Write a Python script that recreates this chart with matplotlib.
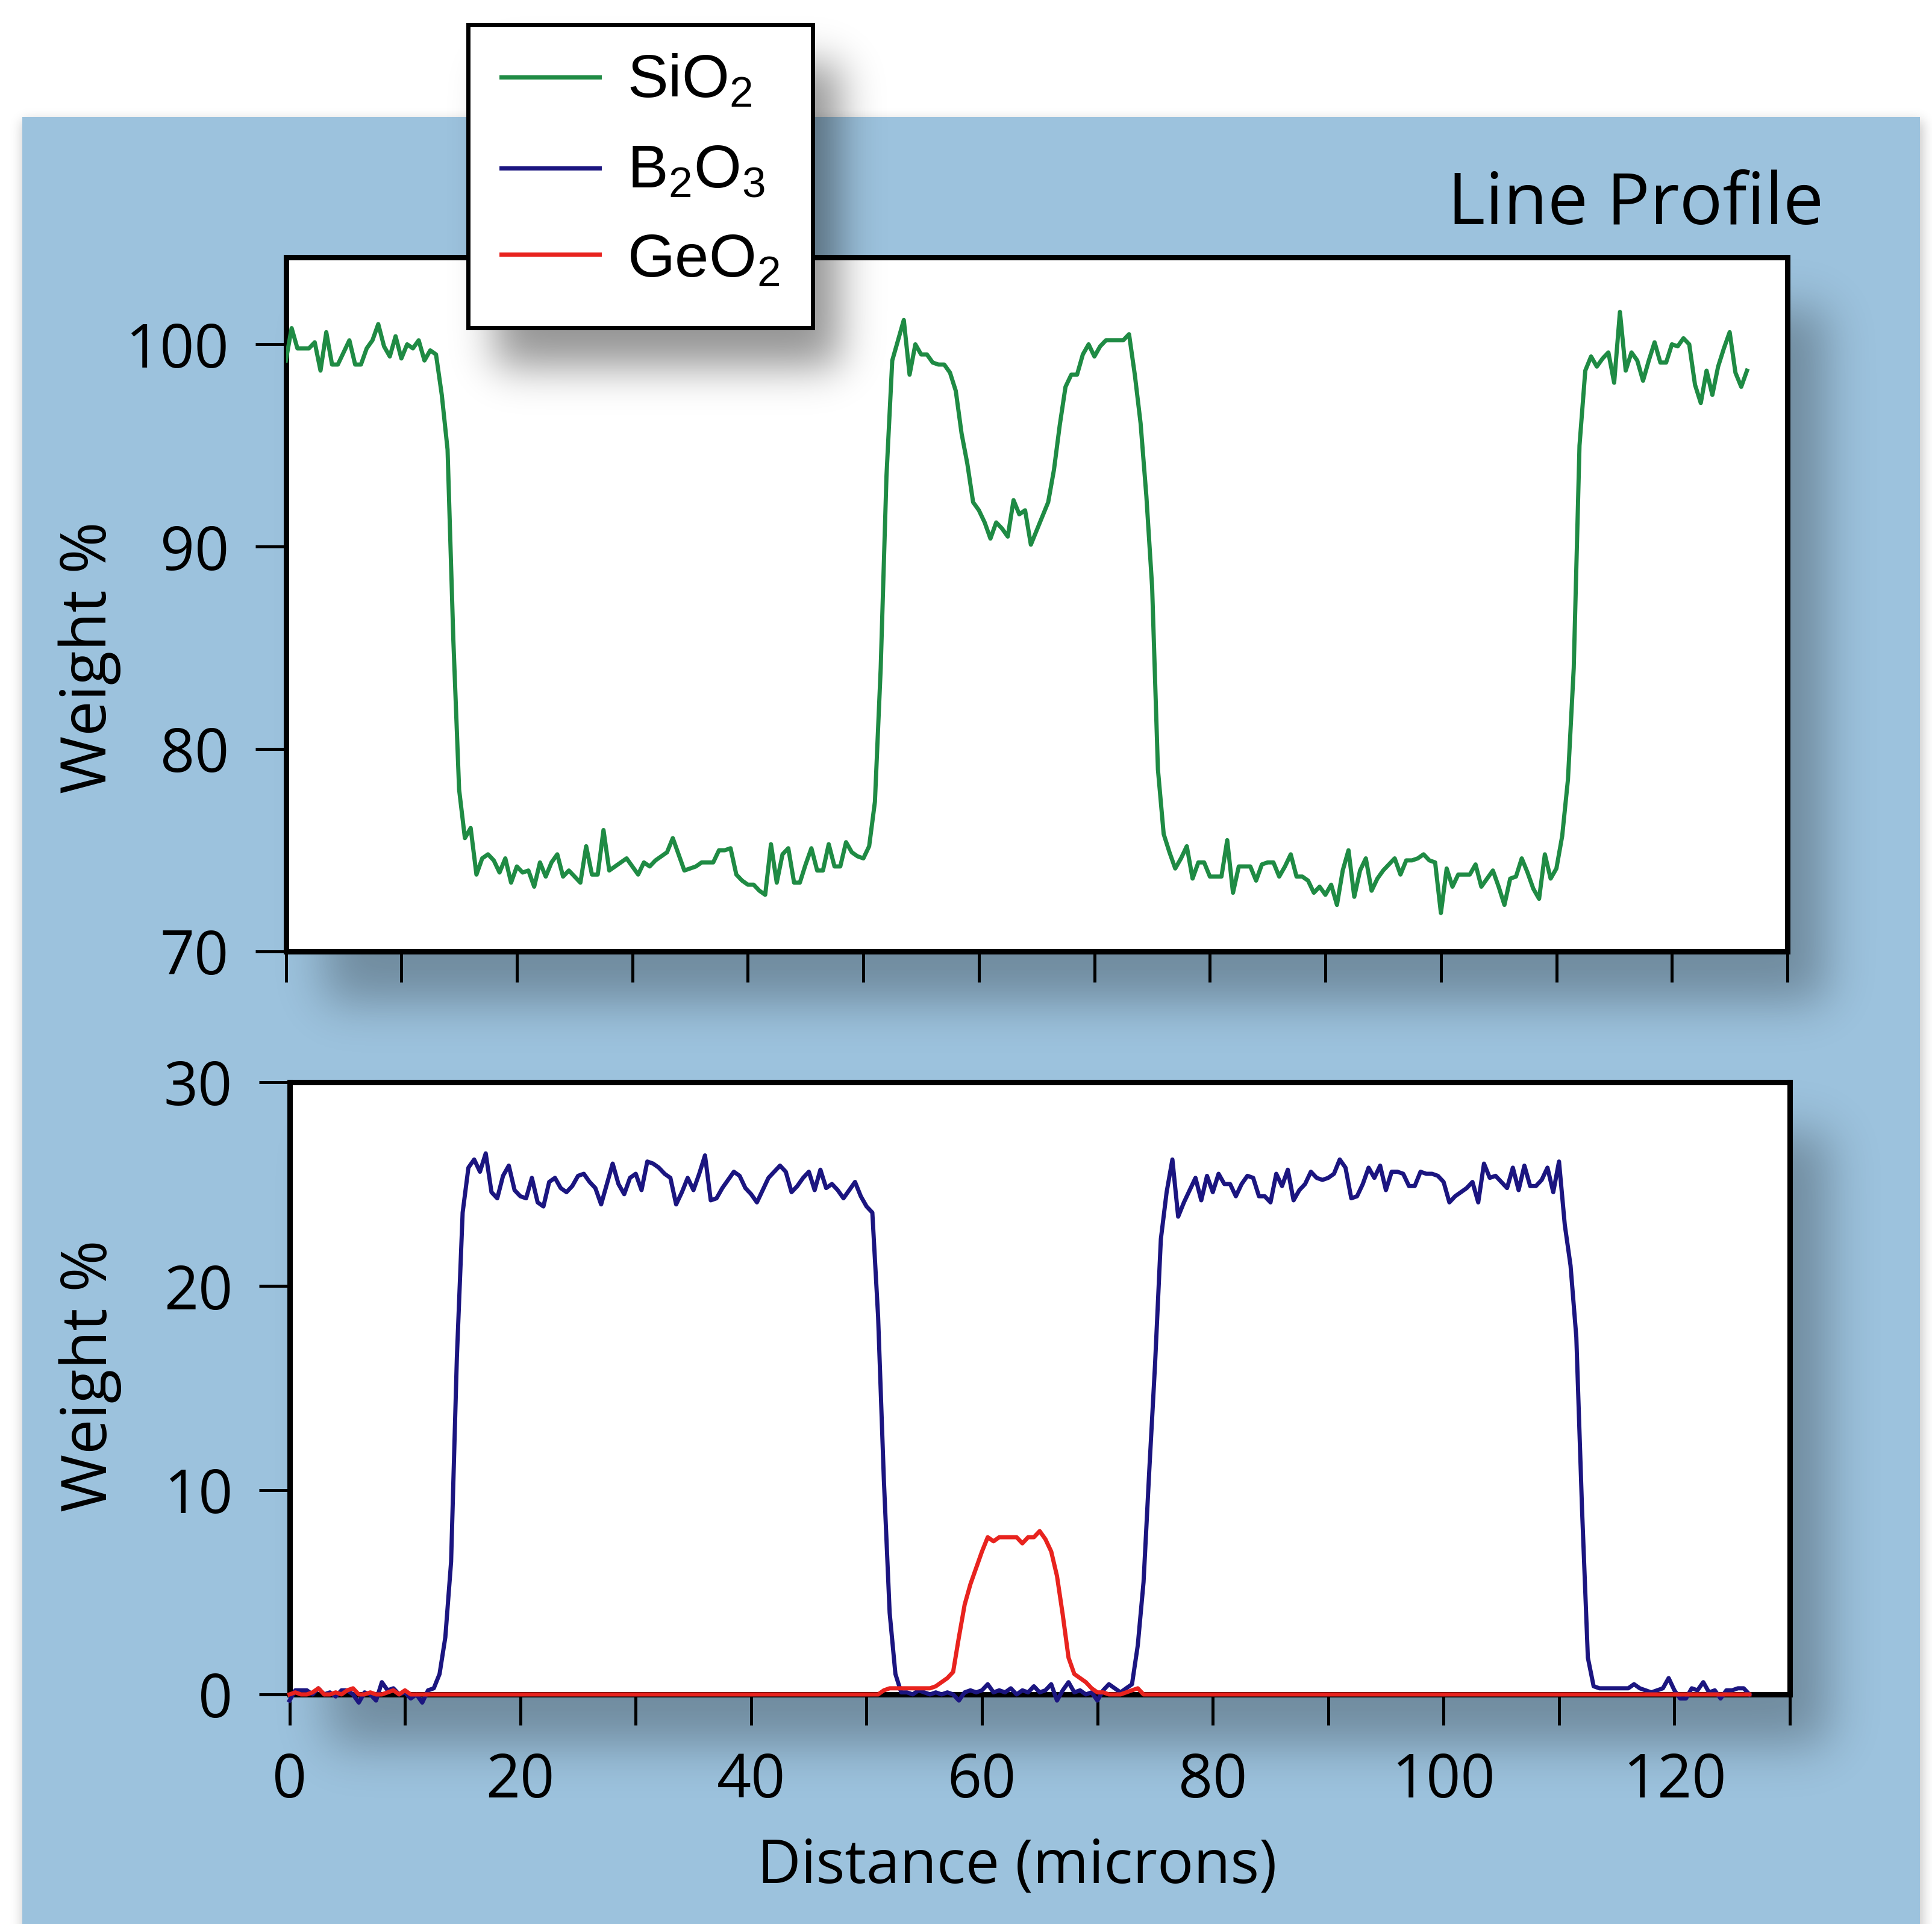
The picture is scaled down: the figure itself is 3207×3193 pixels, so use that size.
import math
import numpy as np
import matplotlib
matplotlib.use("Agg")
import matplotlib.pyplot as plt
from matplotlib.patches import Rectangle
from matplotlib.lines import Line2D

# ---------------- data (weight %, one sample every 0.5 micron) ----------------
step = 0.5

sio2 = [
    99.2, 100.8, 99.8, 99.8, 99.8, 100.1, 98.7, 100.6, 99.0, 99.0,
    99.6, 100.2, 99.0, 99.0, 99.8, 100.2, 101.0, 99.9, 99.4, 100.4,
    99.3, 100.0, 99.8, 100.2, 99.2, 99.7, 99.5, 97.5, 94.8, 85.4,
    78.0, 75.6, 76.1, 73.8, 74.6, 74.8, 74.5, 73.9, 74.6, 73.4,
    74.2, 73.9, 74.0, 73.2, 74.4, 73.7, 74.4, 74.8, 73.7, 74.0,
    73.7, 73.4, 75.2, 73.8, 73.8, 76.0, 74.0, 74.2, 74.4, 74.6,
    74.2, 73.8, 74.4, 74.2, 74.5, 74.7, 74.9, 75.6, 74.8, 74.0,
    74.1, 74.2, 74.4, 74.4, 74.4, 75.0, 75.0, 75.1, 73.8, 73.5,
    73.3, 73.3, 73.0, 72.8, 75.3, 73.4, 74.8, 75.1, 73.4, 73.4,
    74.3, 75.1, 74.0, 74.0, 75.3, 74.2, 74.2, 75.4, 74.9, 74.7,
    74.6, 75.2, 77.4, 84.0, 93.5, 99.2, 100.2, 101.2, 98.5, 100.0,
    99.5, 99.5, 99.1, 99.0, 99.0, 98.6, 97.7, 95.6, 94.1, 92.2,
    91.8, 91.2, 90.4, 91.2, 90.9, 90.5, 92.3, 91.6, 91.8, 90.1,
    90.8, 91.5, 92.2, 93.8, 96.0, 97.9, 98.5, 98.5, 99.5, 100.0,
    99.4, 99.9, 100.2, 100.2, 100.2, 100.2, 100.5, 98.5, 96.1, 92.5,
    88.0, 79.0, 75.8, 74.9, 74.1, 74.6, 75.2, 73.6, 74.4, 74.4,
    73.7, 73.7, 73.7, 75.5, 72.9, 74.2, 74.2, 74.2, 73.5, 74.3,
    74.4, 74.4, 73.7, 74.2, 74.8, 73.7, 73.7, 73.5, 72.9, 73.2,
    72.8, 73.3, 72.3, 74.0, 75.0, 72.7, 74.0, 74.6, 73.0, 73.6,
    74.0, 74.3, 74.6, 73.8, 74.5, 74.5, 74.6, 74.8, 74.5, 74.4,
    71.9, 74.1, 73.2, 73.8, 73.8, 73.8, 74.3, 73.2, 73.6, 74.0,
    73.2, 72.3, 73.6, 73.7, 74.6, 73.9, 73.1, 72.6, 74.8, 73.6,
    74.1, 75.7, 78.5, 84.0, 95.0, 98.7, 99.4, 98.9, 99.3, 99.6,
    98.1, 101.6, 98.7, 99.6, 99.2, 98.2, 99.2, 100.1, 99.1, 99.1,
    100.0, 99.9, 100.3, 100.0, 98.0, 97.1, 98.7, 97.5, 98.9, 99.8,
    100.6, 98.6, 97.9, 98.7,
]

b2o3 = [
    -0.3, 0.2, 0.2, 0.2, 0.0, 0.3, 0.0, 0.1, -0.1, 0.2,
    0.2, 0.0, -0.4, 0.1, 0.0, -0.3, 0.6, 0.2, 0.3, 0.0,
    0.1, -0.2, 0.0, -0.4, 0.2, 0.3, 1.0, 2.8, 6.5, 16.5,
    23.6, 25.8, 26.2, 25.6, 26.5, 24.6, 24.3, 25.4, 25.9, 24.7,
    24.4, 24.3, 25.3, 24.1, 23.9, 25.1, 25.3, 24.8, 24.6, 24.9,
    25.4, 25.5, 25.1, 24.8, 24.0, 25.0, 26.0, 25.0, 24.5, 25.3,
    25.5, 24.7, 26.1, 26.0, 25.8, 25.5, 25.3, 24.0, 24.6, 25.3,
    24.7, 25.5, 26.4, 24.2, 24.3, 24.8, 25.2, 25.6, 25.4, 24.8,
    24.5, 24.1, 24.7, 25.3, 25.6, 25.9, 25.6, 24.6, 24.9, 25.3,
    25.6, 24.7, 25.7, 24.8, 25.0, 24.7, 24.3, 24.7, 25.1, 24.4,
    23.9, 23.6, 18.5, 10.5, 4.0, 1.0, 0.1, 0.1, 0.0, 0.2,
    0.1, 0.0, 0.1, 0.0, 0.1, 0.0, -0.3, 0.1, 0.2, 0.1,
    0.2, 0.5, 0.1, 0.2, 0.1, 0.3, 0.0, 0.2, 0.1, 0.4,
    0.1, 0.2, 0.5, -0.3, 0.2, 0.6, 0.1, 0.2, 0.0, 0.1,
    -0.3, 0.2, 0.5, 0.3, 0.1, 0.3, 0.5, 2.4, 5.5, 11.0,
    16.2, 22.3, 24.6, 26.2, 23.4, 24.1, 24.7, 25.3, 24.2, 25.4,
    24.6, 25.5, 25.0, 25.0, 24.4, 25.0, 25.4, 25.3, 24.4, 24.4,
    24.1, 25.5, 24.9, 25.7, 24.2, 24.7, 25.0, 25.6, 25.3, 25.2,
    25.3, 25.5, 26.2, 25.8, 24.3, 24.4, 25.0, 25.8, 25.3, 25.9,
    24.7, 25.6, 25.6, 25.5, 24.9, 24.9, 25.6, 25.5, 25.5, 25.4,
    25.1, 24.1, 24.4, 24.6, 24.8, 25.1, 24.1, 26.0, 25.3, 25.4,
    25.1, 24.8, 25.8, 24.7, 25.9, 24.9, 24.9, 25.2, 25.8, 24.6,
    26.1, 23.0, 21.0, 17.5, 9.0, 1.8, 0.4, 0.3, 0.3, 0.3,
    0.3, 0.3, 0.3, 0.5, 0.3, 0.2, 0.1, 0.2, 0.3, 0.8,
    0.2, -0.2, -0.2, 0.3, 0.2, 0.6, 0.1, 0.2, -0.2, 0.2,
    0.2, 0.3, 0.3, 0.0,
]

geo2 = [
    0.0, 0.1, 0.0, 0.0, 0.1, 0.3, 0.0, 0.0, 0.1, 0.0,
    0.2, 0.3, 0.0, 0.0, 0.1, 0.0, 0.0, 0.1, 0.2, 0.0,
    0.2, 0.0, 0.0, 0.0, 0.0, 0.0, 0.0, 0.0, 0.0, 0.0,
    0.0, 0.0, 0.0, 0.0, 0.0, 0.0, 0.0, 0.0, 0.0, 0.0,
    0.0, 0.0, 0.0, 0.0, 0.0, 0.0, 0.0, 0.0, 0.0, 0.0,
    0.0, 0.0, 0.0, 0.0, 0.0, 0.0, 0.0, 0.0, 0.0, 0.0,
    0.0, 0.0, 0.0, 0.0, 0.0, 0.0, 0.0, 0.0, 0.0, 0.0,
    0.0, 0.0, 0.0, 0.0, 0.0, 0.0, 0.0, 0.0, 0.0, 0.0,
    0.0, 0.0, 0.0, 0.0, 0.0, 0.0, 0.0, 0.0, 0.0, 0.0,
    0.0, 0.0, 0.0, 0.0, 0.0, 0.0, 0.0, 0.0, 0.0, 0.0,
    0.0, 0.0, 0.0, 0.2, 0.3, 0.3, 0.3, 0.3, 0.3, 0.3,
    0.3, 0.3, 0.4, 0.6, 0.8, 1.1, 2.8, 4.4, 5.4, 6.2,
    7.0, 7.7, 7.5, 7.7, 7.7, 7.7, 7.7, 7.4, 7.7, 7.7,
    8.0, 7.6, 7.0, 5.8, 3.9, 1.8, 1.0, 0.8, 0.6, 0.3,
    0.1, 0.1, 0.0, 0.0, 0.0, 0.1, 0.2, 0.3, 0.0, 0.0,
    0.0, 0.0, 0.0, 0.0, 0.0, 0.0, 0.0, 0.0, 0.0, 0.0,
    0.0, 0.0, 0.0, 0.0, 0.0, 0.0, 0.0, 0.0, 0.0, 0.0,
    0.0, 0.0, 0.0, 0.0, 0.0, 0.0, 0.0, 0.0, 0.0, 0.0,
    0.0, 0.0, 0.0, 0.0, 0.0, 0.0, 0.0, 0.0, 0.0, 0.0,
    0.0, 0.0, 0.0, 0.0, 0.0, 0.0, 0.0, 0.0, 0.0, 0.0,
    0.0, 0.0, 0.0, 0.0, 0.0, 0.0, 0.0, 0.0, 0.0, 0.0,
    0.0, 0.0, 0.0, 0.0, 0.0, 0.0, 0.0, 0.0, 0.0, 0.0,
    0.0, 0.0, 0.0, 0.0, 0.0, 0.0, 0.0, 0.0, 0.0, 0.0,
    0.0, 0.0, 0.0, 0.0, 0.0, 0.0, 0.0, 0.0, 0.0, 0.0,
    0.0, 0.0, 0.0, 0.0, 0.0, 0.0, 0.0, 0.0, 0.0, 0.0,
    0.0, 0.0, 0.0, 0.0,
]

labels = ["SiO$_2$", "B$_2$O$_3$", "GeO$_2$"]
colors = ["#1f8b44", "#1b1580", "#e8231e"]

dist_sio2 = step * np.arange(len(sio2))
dist_b2o3 = step * np.arange(len(b2o3))
dist_geo2 = step * np.arange(len(geo2))

# ---------------- figure ----------------
W, H = 3207, 3193
plt.rcParams['font.family'] = ['Open Sans', 'DejaVu Sans']
plt.rcParams['mathtext.fontset'] = 'custom'
plt.rcParams['mathtext.rm'] = 'Liberation Sans'

fig = plt.figure(figsize=(W / 100, H / 100), dpi=100, facecolor='white')

_erf = np.vectorize(math.erf)


def soft_box(x0, y0, x1, y1, sigma, xs, ys):
    # gaussian-blurred rectangle, used for the drop shadows
    k = math.sqrt(2) * sigma
    fx = 0.5 * (_erf((xs - x0) / k) - _erf((xs - x1) / k))
    fy = 0.5 * (_erf((ys - y0) / k) - _erf((ys - y1) / k))
    return np.outer(fy, fx)


def shadow_rgba(alpha):
    img = np.zeros(alpha.shape + (4,))
    img[..., 3] = alpha
    return img


xs = np.arange(0, W, 2) + 1.0
ys = np.arange(0, H, 2) + 1.0

# blue panel + shadows of the two plot boxes
bg = fig.add_axes([0, 0, 1, 1], zorder=-1)
bg.axis('off')
s_panel = 0.22 * soft_box(37, 194 + 6, 3187 + 6, 3300, 10, xs, ys)
bg.imshow(shadow_rgba(s_panel), extent=(0, W, H, 0), interpolation='bilinear',
          aspect='auto', zorder=0.5)
bg.add_patch(Rectangle((37, 194), 3150, 3000, facecolor='#9cc2dd',
                       edgecolor='none', zorder=1))
s_top = soft_box(474 + 65, 427 + 85, 2967 + 65, 1579 + 85, 38, xs, ys)
s_bot = soft_box(480 + 65, 1795 + 85, 2971 + 65, 2812 + 85, 40, xs, ys)
shade = 1 - (1 - 0.28 * s_top) * (1 - 0.28 * s_bot)
bg.imshow(shadow_rgba(shade), extent=(0, W, H, 0), interpolation='bilinear',
          aspect='auto', zorder=2)
bg.set_xlim(0, W)
bg.set_ylim(H, 0)

# ---- top panel: SiO2
ax1 = fig.add_axes([474.5 / W, 1 - 1579 / H, 2492.5 / W, 1152 / H], zorder=0)
ax1.plot(dist_sio2, sio2, color=colors[0], lw=5, zorder=3)
ax1.set_xlim(0, 130)
ax1.set_ylim(70, 104.3)
ax1.set_xticks(np.arange(0, 131, 10))
ax1.set_xticklabels([])
ax1.set_yticks([70, 80, 90, 100])
ax1.set_ylabel('Weight %', fontsize=75, va='center')
ax1.yaxis.set_label_coords(-0.1306, 0.423)

# ---- bottom panel: B2O3 and GeO2
ax2 = fig.add_axes([480.6 / W, 1 - 2812 / H, 2490.4 / W, 1016.5 / H], zorder=0)
ax2.plot(dist_b2o3, b2o3, color=colors[1], lw=5, zorder=3, clip_on=False)
ax2.plot(dist_geo2, geo2, color=colors[2], lw=5, zorder=3.1, clip_on=False)
ax2.set_xlim(0, 130)
ax2.set_ylim(0, 30)
ax2.set_xticks(np.arange(0, 121, 20))
ax2.set_xticks(np.arange(10, 131, 20), minor=True)
ax2.set_yticks([0, 10, 20, 30])
ax2.set_ylabel('Weight %', fontsize=75, va='center')
ax2.yaxis.set_label_coords(-0.133, 0.52)
ax2.set_xlabel('Distance (microns)', fontsize=72, va='baseline')
ax2.xaxis.set_label_coords(0.485, -0.308)

for ax in (ax1, ax2):
    ax.set_facecolor('white')
    ax.tick_params(which='both', direction='out', length=37, width=3.6,
                   pad=31, labelsize=72, color='black', labelcolor='black')
    for sp in ax.spines.values():
        sp.set_linewidth(6.5)
        sp.set_color('black')

fig.text(3027 / W, 1 - 372 / H, 'Line Profile', ha='right', va='baseline',
         fontsize=86, color='black')

# ---- legend box with its soft shadow, drawn above the plots
ov = fig.add_axes([0, 0, 1, 1], zorder=2)
ov.axis('off')
s_leg = 0.42 * soft_box(777 + 45, 41 + 65, 1349 + 45, 544 + 65, 34, xs, ys)
ov.imshow(shadow_rgba(s_leg), extent=(0, W, H, 0), interpolation='bilinear',
          aspect='auto', zorder=1)
ov.add_patch(Rectangle((777, 41), 572, 503, facecolor='white', edgecolor='black',
                       lw=5, zorder=2))
for lab, col, yl, yb in zip(labels, colors, [128, 279, 422], [161, 312, 459]):
    ov.add_line(Line2D([832, 995], [yl, yl], color=col, lw=5, zorder=3))
    ov.text(1041, yb, lab, fontsize=73, family=['Liberation Sans', 'DejaVu Sans'],
            va='baseline', ha='left', zorder=3)
ov.set_xlim(0, W)
ov.set_ylim(H, 0)

fig.savefig('out.png', dpi=100, facecolor='white')
